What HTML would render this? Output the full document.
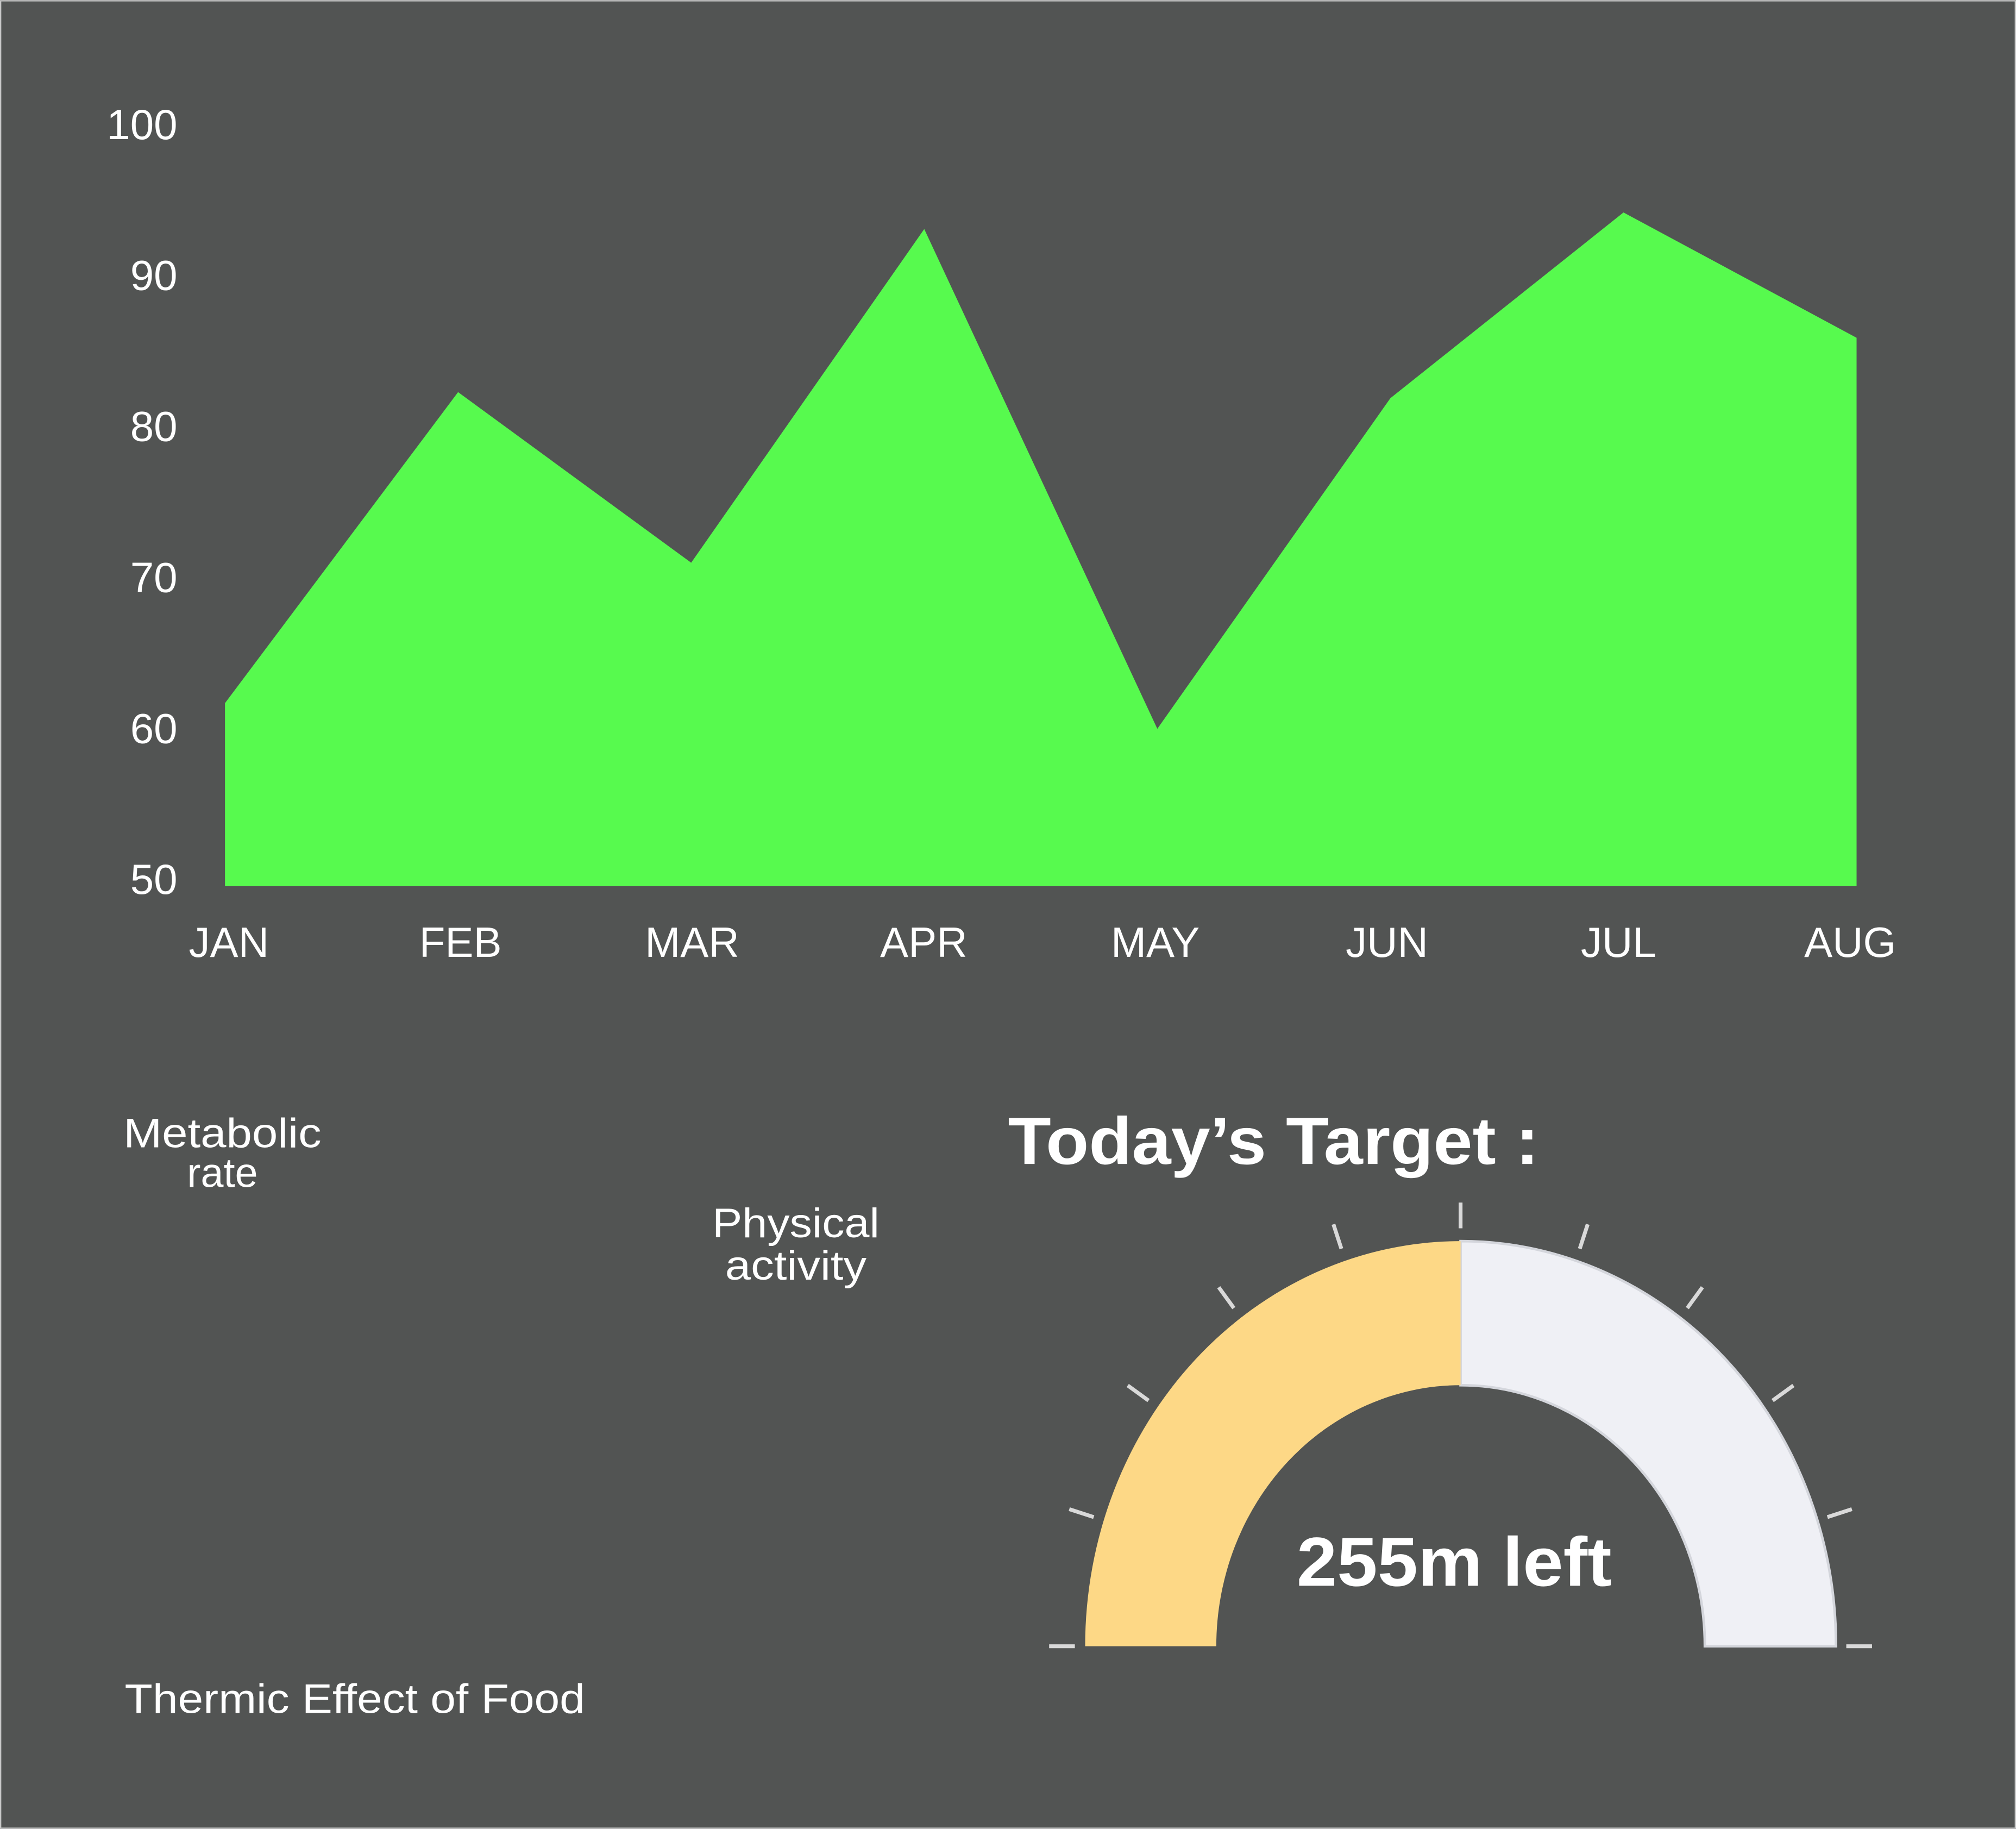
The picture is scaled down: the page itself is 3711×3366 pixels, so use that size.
<!DOCTYPE html>
<html><head><meta charset="utf-8"><style>
html,body{margin:0;padding:0;background:#525453;}
svg{display:block;}
text{font-family:"Liberation Sans",sans-serif;fill:#fff;}
</style></head><body>
<svg width="3711" height="3366" viewBox="0 0 1568 1422">
<rect x="0.5" y="0.5" width="1567" height="1421" fill="#525453" stroke="#c8c8c8" stroke-width="1"/>
<g id="chart"></g>
<text x="173" y="892" font-size="32" text-anchor="middle" textLength="154" lengthAdjust="spacingAndGlyphs">Metabolic</text>
<text x="173" y="923" font-size="32" text-anchor="middle">rate</text>
<text x="619" y="962" font-size="32" text-anchor="middle" textLength="130" lengthAdjust="spacingAndGlyphs">Physical</text>
<text x="619" y="995" font-size="32" text-anchor="middle" textLength="110" lengthAdjust="spacingAndGlyphs">activity</text>
<text x="97" y="1332" font-size="32" textLength="358" lengthAdjust="spacingAndGlyphs">Thermic Effect of Food</text>
<text x="784" y="905" font-size="52" font-weight="bold" textLength="413" lengthAdjust="spacingAndGlyphs">Today’s Target :</text>
<g id="gauge"></g>
<text x="1131" y="1233" font-size="54" font-weight="bold" text-anchor="middle" textLength="245" lengthAdjust="spacingAndGlyphs">255m left</text>
</svg>
<script>
const categories = ["JAN","FEB","MAR","APR","MAY","JUN","JUL","AUG"];
const values = [61.7, 82.3, 71, 93.1, 60, 81.9, 94.2, 85.9];
const yTicks = [50, 60, 70, 80, 90, 100];
const gaugeFraction = [0.5];
const NS = "http://www.w3.org/2000/svg";
const chart = document.getElementById("chart");
const yMin = 50, yMax = 100, yTop = 97, yBot = 684;
function yScale(v){ return yBot - (v - yMin) / (yMax - yMin) * (yBot - yTop); }
function xScale(i){ return 175 + i * (1444 - 175) / (categories.length - 1); }
function mk(tag, attrs){ const e = document.createElementNS(NS, tag); for (const k in attrs) e.setAttribute(k, attrs[k]); return e; }
let d = "M" + xScale(0) + "," + 689;
values.forEach((v, i) => { d += " L" + xScale(i) + "," + yScale(v); });
d += " L" + xScale(values.length - 1) + "," + 689 + " Z";
const area = mk("path", {d: d, fill: "#57fa4e"});


chart.appendChild(area);
yTicks.forEach(t => {
  const tx = mk("text", {x: 138, y: yScale(t) + 11, "font-size": 33, "text-anchor": "end"});
  tx.textContent = t;
  
  
  chart.appendChild(tx);
});
categories.forEach((c, i) => {
  const lx = 178 + i * (1439 - 178) / (categories.length - 1);
  const tx = mk("text", {x: lx, y: 744, "font-size": 33, "text-anchor": "middle"});
  tx.textContent = c;
  
  
  chart.appendChild(tx);
});
const g = document.getElementById("gauge");
const cx = 1136, cy = 1280, rxO = 292, ryO = 315, rxI = 190, ryI = 203;
function pt(rx, ry, a){ return [cx - rx * Math.cos(a), cy - ry * Math.sin(a)]; }
function band(a0, a1){
  const p0 = pt(rxO, ryO, a0), p1 = pt(rxO, ryO, a1), q1 = pt(rxI, ryI, a1), q0 = pt(rxI, ryI, a0);
  return "M" + p0 + " A" + rxO + "," + ryO + " 0 0 1 " + p1 + " L" + q1 + " A" + rxI + "," + ryI + " 0 0 0 " + q0 + " Z";
}
const split = Math.PI * gaugeFraction[0];
const bg = mk("path", {d: band(split, Math.PI), fill: "#eff0f5", stroke: "#d4d6dc", "stroke-width": 2});


g.appendChild(bg);
const fg = mk("path", {d: band(0, split), fill: "#fdd886"});


g.appendChild(fg);
for (let i = 0; i <= 10; i++) {
  const a = Math.PI * i / 10;
  const a1 = pt(rxO + 8, ryO + 10, a), a2 = pt(rxO + 28, ryO + 30, a);
  const tk = mk("line", {x1: a1[0], y1: a1[1], x2: a2[0], y2: a2[1], stroke: "#d9d9d9", "stroke-width": 3});
  
  
  g.appendChild(tk);
}
</script>
</body></html>
